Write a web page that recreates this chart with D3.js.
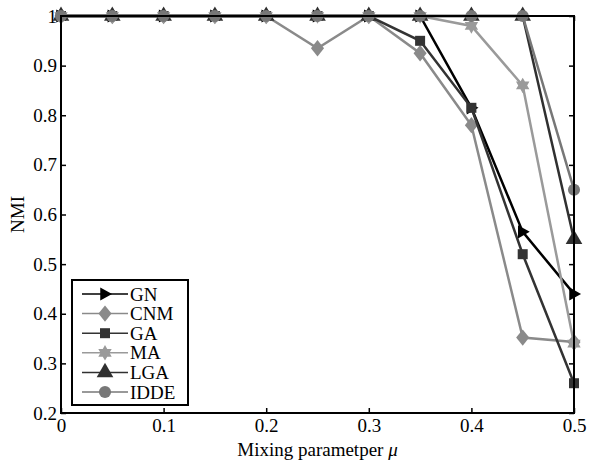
<!DOCTYPE html>
<html>
<head>
<meta charset="utf-8">
<script src="https://cdn.jsdelivr.net/npm/d3@7"></script>
<style>
  body { margin: 0; background: #fff; }
  text { font-family: "Liberation Serif", "Times New Roman", serif; }
</style>
</head>
<body>
<svg id="chart"></svg>
<script>
// data
const mu = [0, 0.05, 0.1, 0.15, 0.2, 0.25, 0.3, 0.35, 0.4, 0.45, 0.5];
const gn   = [1, 1, 1, 1, 1, 1, 1, 1, 0.815, 0.565, 0.44];
const cnm  = [1, 1, 1, 1, 1, 0.935, 1, 0.925, 0.78, 0.352, 0.343];
const ga   = [1, 1, 1, 1, 1, 1, 1, 0.95, 0.815, 0.52, 0.26];
const ma   = [1, 1, 1, 1, 1, 1, 1, 1, 0.98, 0.86, 0.34];
const lga  = [1, 1, 1, 1, 1, 1, 1, 1, 1, 1, 0.55];
const idde = [1, 1, 1, 1, 1, 1, 1, 1, 1, 1, 0.65];
const xTicks = [0, 0.1, 0.2, 0.3, 0.4, 0.5];
const yTicks = [0.2, 0.3, 0.4, 0.5, 0.6, 0.7, 0.8, 0.9, 1];

const width = 589;
const height = 467;
const margin = { top: 16, right: 15, bottom: 54, left: 61 };
const innerWidth = width - margin.left - margin.right;
const innerHeight = height - margin.top - margin.bottom;
const fontSize = 19;

const svg = d3.select('#chart')
  .attr('width', width)
  .attr('height', height);

const g = svg.append('g')
  .attr('transform', `translate(${margin.left}, ${margin.top})`);

// scales
const xScale = d3.scaleLinear().domain([0, 0.5]).range([0, innerWidth]);
const yScale = d3.scaleLinear().domain([0.2, 1]).range([innerHeight, 0]);

// custom marker shapes
const hexStar = {
  draw(context, size) {
    const r = Math.sqrt(size / 1.5);
    const ri = r * 0.58;
    for (let i = 0; i < 12; i++) {
      const a = -Math.PI / 2 + i * Math.PI / 6;
      const rr = i % 2 === 0 ? r : ri;
      const px = rr * Math.cos(a), py = rr * Math.sin(a);
      if (i === 0) context.moveTo(px, py); else context.lineTo(px, py);
    }
    context.closePath();
  }
};
const triRight = {
  draw(context, size) {
    const s = Math.sqrt(size) * 0.9;
    context.moveTo(s * 0.75, 0);
    context.lineTo(-s * 0.5, -s * 0.7);
    context.lineTo(-s * 0.5, s * 0.7);
    context.closePath();
  }
};
const wideDiamond = {
  draw(context, size) {
    const h = Math.sqrt(size) * 0.78;
    const w = h * 0.8;
    context.moveTo(0, -h);
    context.lineTo(w, 0);
    context.lineTo(0, h);
    context.lineTo(-w, 0);
    context.closePath();
  }
};

const series = [
  { name: 'GN', values: gn, color: '#000000', symbol: triRight, size: 110 },
  { name: 'CNM', values: cnm, color: '#8a8a8a', symbol: wideDiamond, size: 110 },
  { name: 'GA', values: ga, color: '#333333', symbol: d3.symbolSquare, size: 100 },
  { name: 'MA', values: ma, color: '#9a9a9a', symbol: hexStar, size: 90 },
  { name: 'LGA', values: lga, color: '#303030', symbol: d3.symbolTriangle, size: 120 },
  { name: 'IDDE', values: idde, color: '#777777', symbol: d3.symbolCircle, size: 115 }
];

// axes (ticks pointing inward)
g.append('g')
  .attr('transform', `translate(0, ${innerHeight})`)
  .call(d3.axisBottom(xScale).tickValues(xTicks).tickSizeInner(-5).tickSizeOuter(0)
    .tickPadding(6).tickFormat(d3.format('')))
  .call(a => a.select('.domain').remove());

g.append('g')
  .call(d3.axisLeft(yScale).tickValues(yTicks).tickSizeInner(-5).tickSizeOuter(0)
    .tickPadding(4).tickFormat(d => d === 1 ? '1' : d3.format('.1f')(d)))
  .call(a => a.select('.domain').remove());

g.append('g')
  .call(d3.axisTop(xScale).tickValues(xTicks).tickSizeInner(-5).tickSizeOuter(0).tickFormat(''))
  .call(a => a.select('.domain').remove());

g.append('g')
  .attr('transform', `translate(${innerWidth}, 0)`)
  .call(d3.axisRight(yScale).tickValues(yTicks).tickSizeInner(-5).tickSizeOuter(0).tickFormat(''))
  .call(a => a.select('.domain').remove());

g.selectAll('.tick line').attr('stroke', '#000').attr('stroke-width', 1.5);
g.selectAll('.tick text').attr('font-size', fontSize).attr('fill', '#000')
  .style('font-family', '"Liberation Serif", serif');

// lines and markers
const line = d3.line()
  .x((d, i) => xScale(mu[i]))
  .y(d => yScale(d));

series.forEach(s => {
  const sg = g.append('g');
  sg.append('path')
    .datum(s.values)
    .attr('d', line)
    .attr('fill', 'none')
    .attr('stroke', s.color)
    .attr('stroke-width', 2.5);
  sg.selectAll('path.marker')
    .data(s.values)
    .enter()
    .append('path')
    .attr('class', 'marker')
    .attr('transform', (d, i) => `translate(${xScale(mu[i])}, ${yScale(d)})`)
    .attr('d', d3.symbol().type(s.symbol).size(s.size))
    .attr('fill', s.color);
});

// frame
g.append('rect')
  .attr('width', innerWidth)
  .attr('height', innerHeight)
  .attr('fill', 'none')
  .attr('stroke', '#000')
  .attr('stroke-width', 2);

// legend
const legend = svg.append('g');
legend.append('rect')
  .attr('x', 72).attr('y', 280)
  .attr('width', 116).attr('height', 125)
  .attr('fill', '#fff')
  .attr('stroke', '#000')
  .attr('stroke-width', 2);

series.forEach((s, i) => {
  const y = 294 + i * 19.6;
  legend.append('line')
    .attr('x1', 82).attr('x2', 128)
    .attr('y1', y).attr('y2', y)
    .attr('stroke', s.color)
    .attr('stroke-width', 1.5);
  legend.append('path')
    .attr('transform', `translate(105, ${y})`)
    .attr('d', d3.symbol().type(s.symbol).size(s.size))
    .attr('fill', s.color);
  legend.append('text')
    .attr('x', 130).attr('y', y + 6.5)
    .attr('font-size', fontSize)
    .text(s.name);
});

// axis titles
const xl = svg.append('text')
  .attr('x', margin.left + innerWidth / 2)
  .attr('y', 456)
  .attr('text-anchor', 'middle')
  .attr('font-size', fontSize);
xl.append('tspan').text('Mixing parametper ');
xl.append('tspan').attr('font-style', 'italic').text('μ');

svg.append('text')
  .attr('transform', `translate(24, ${margin.top + innerHeight / 2}) rotate(-90)`)
  .attr('text-anchor', 'middle')
  .attr('font-size', fontSize)
  .text('NMI');
</script>
</body>
</html>
